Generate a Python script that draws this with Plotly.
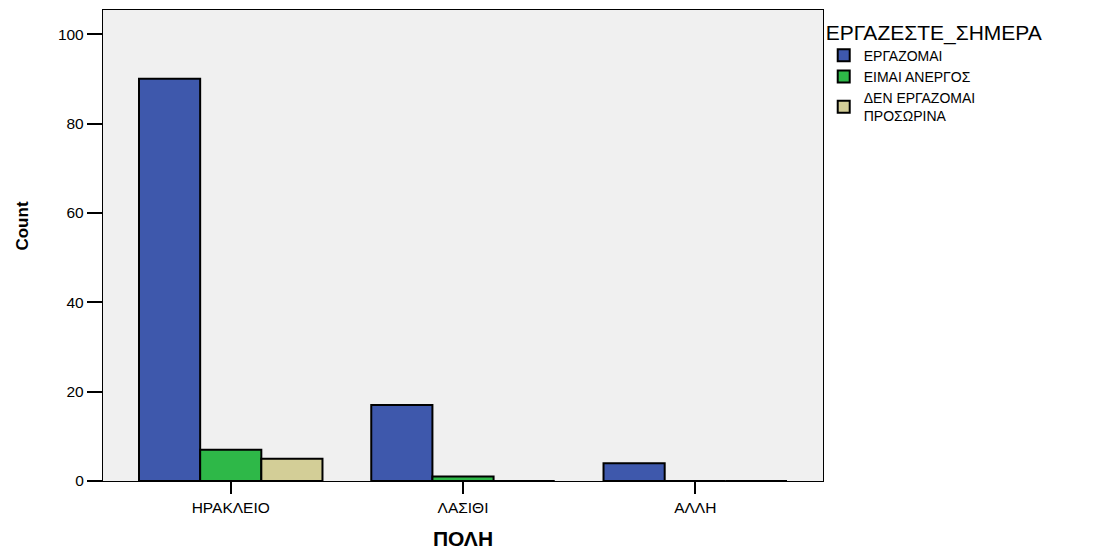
import plotly.graph_objects as go

cities = ["ΗΡΑΚΛΕΙΟ", "ΛΑΣΙΘΙ", "ΑΛΛΗ"]
series_names = ["ΕΡΓΑΖΟΜΑΙ", "ΕΙΜΑΙ ΑΝΕΡΓΟΣ", "ΔΕΝ ΕΡΓΑΖΟΜΑΙ<br>ΠΡΟΣΩΡΙΝΑ"]
working = [90, 17, 4]
unemployed = [7, 1, 0]
temp_not_working = [5, 0, 0]
colors = ["#3E58AC", "#2EB848", "#D3CE97"]
y_ticks = [0, 20, 40, 60, 80, 100]

font_family = "Liberation Sans, Arial, sans-serif"

fig = go.Figure()
for name, vals, col in zip(series_names, [working, unemployed, temp_not_working], colors):
    fig.add_trace(go.Bar(
        x=cities, y=vals, name=name,
        marker=dict(color=col, line=dict(color="black", width=2)),
    ))

fig.update_layout(
    width=1093, height=551,
    margin=dict(l=103, r=270, t=10, b=70),
    paper_bgcolor="white",
    plot_bgcolor="#F0F0F0",
    barmode="group",
    bargap=0.21,
    bargroupgap=0,
    font=dict(family=font_family, size=15.5, color="black"),
    legend=dict(
        title=dict(text="ΕΡΓΑΖΕΣΤΕ_ΣΗΜΕΡΑ", font=dict(size=21, family=font_family)),
        x=1.001, xanchor="left", y=0.995, yanchor="top",
        font=dict(size=14, family=font_family),
        tracegroupgap=6,
        bgcolor="rgba(0,0,0,0)",
    ),
    xaxis=dict(
        range=[-0.55, 2.55],
        automargin=False,
        showline=True, linecolor="black", linewidth=1.3, mirror=True,
        ticks="outside", ticklen=12, tickwidth=2, tickcolor="black",
        showgrid=False,
        title=dict(text="<b>ΠΟΛΗ</b>", font=dict(size=21, family=font_family), standoff=16),
    ),
    yaxis=dict(
        range=[0, 105.4],
        automargin=False,
        tickvals=y_ticks,
        showline=True, linecolor="black", linewidth=1.3, mirror=True,
        ticks="outside", ticklen=15, tickwidth=2, tickcolor="black",
        showgrid=False, zeroline=False,
    ),
    annotations=[dict(
        text="<b>Count</b>", textangle=-90,
        xref="paper", yref="paper", x=-0.112, y=0.541,
        xanchor="center", yanchor="middle", showarrow=False,
        font=dict(size=17, family=font_family),
    )],
)

fig.write_html("out.html", config={"displayModeBar": False},
               post_script="document.body.style.margin='0';")
